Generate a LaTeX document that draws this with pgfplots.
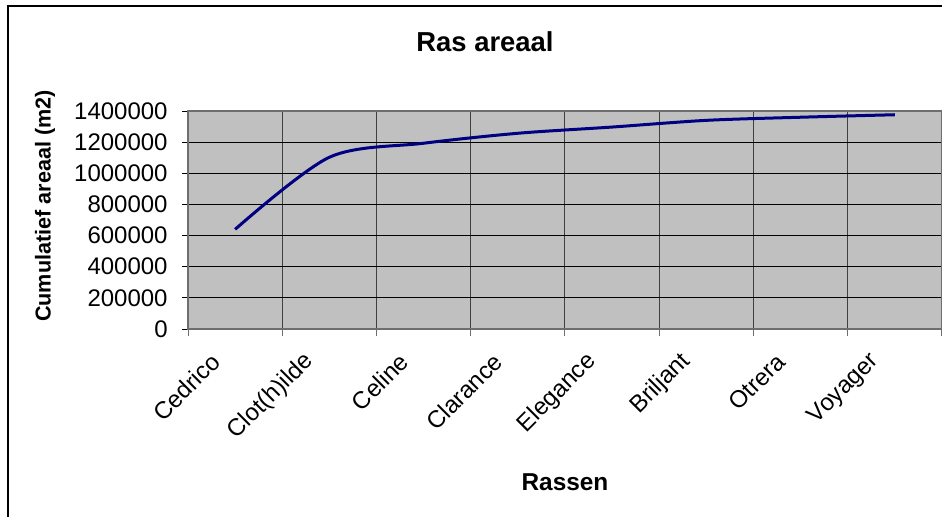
\documentclass[border=0pt]{standalone}
\usepackage{pgfplots}
\pgfplotsset{compat=1.18}
\usepackage{fontspec}
\setmainfont{Liberation Sans}
\definecolor{bggray}{RGB}{192,192,192}
\definecolor{axgray}{RGB}{110,110,110}
\definecolor{navyline}{RGB}{0,0,128}
\newcommand{\tf}{\fontsize{12}{14}\selectfont}
\begin{document}
\fontsize{12}{14}\selectfont
\begin{tikzpicture}[font=\tf]
\path[use as bounding box] (0,0) rectangle (471pt,258pt);
\fill[white] (0,0) rectangle (471pt,258pt);
\draw[black, line width=0.8pt] (4pt,-5pt) -- (4pt,255pt) -- (480pt,255pt);
\begin{axis}[
  at={(94pt,93.5pt)}, anchor=south west,
  scale only axis, width=377pt, height=109pt,
  xmin=0.5, xmax=8.5, ymin=0, ymax=1400000,
  axis background/.style={fill=bggray},
  axis line style={draw=axgray, line width=1pt},
  tick align=outside, tick pos=left,
  every tick label/.append style={font=\tf},
  xtick={1,...,8},
  xticklabels={Cedrico,Clot(h)ilde,Celine,Clarance,Elegance,Briljant,Otrera,Voyager},
  major x tick style={draw=none},
  minor xtick={0.5,1.5,...,8.5},
  minor tick length=3.5pt,
  major tick length=3pt,
  xminorgrids=true,
  minor x grid style={draw=black!75, line width=0.5pt},
  minor x tick style={draw=axgray, line width=0.5pt},
  ytick={0,200000,...,1400000},
  ymajorgrids=true,
  major y grid style={draw=black, line width=0.5pt},
  major y tick style={draw=black, line width=0.5pt},
  scaled y ticks=false,
  yticklabel={\tf\pgfmathprintnumber[fixed,1000 sep={},assume math mode=true]{\tick}},
  yticklabel style={anchor=east, inner sep=0pt, xshift=-7pt, font=\tf},
  xticklabel style={inner sep=0pt, xshift=-9.7pt, yshift=-11.3pt, rotate=45, anchor=east, font=\tf},
  clip=false,
]
\addplot[navyline, line width=1.5pt, smooth, tension=0.5] coordinates {
  (1,640000) (2,1103000) (3,1193000) (4,1257000) (5,1297000) (6,1340000) (7,1360000) (8,1376000)
};
\end{axis}
\node[font=\bfseries\fontsize{13.7}{16}\selectfont] at (242.5pt,237pt) {Ras areaal};
\node[font=\bfseries\fontsize{10.8}{13}\selectfont, rotate=90] at (22.5pt,155pt) {Cumulatief areaal (m2)};
\node[font=\bfseries\fontsize{12.2}{14}\selectfont] at (282.5pt,17pt) {Rassen};
\end{tikzpicture}
\end{document}
